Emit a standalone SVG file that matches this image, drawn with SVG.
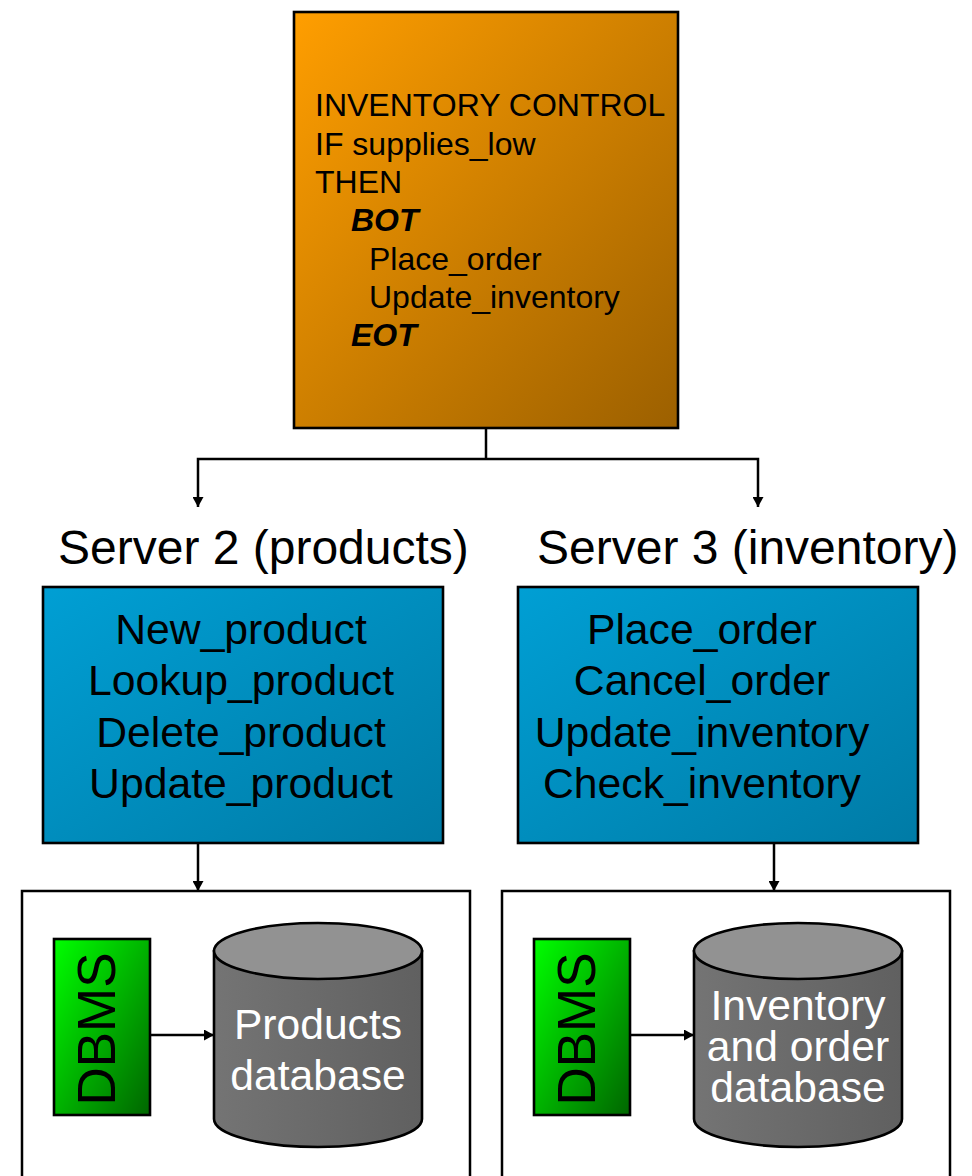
<svg xmlns="http://www.w3.org/2000/svg" width="972" height="1176" viewBox="0 0 972 1176">
<style>
text{font-family:"Liberation Sans",Arial,sans-serif;fill:#000}
.c{stroke:#000;stroke-width:2.5;fill:none}
.b{stroke:#000;stroke-width:2.6}
.code{font-size:32px}
.srv{font-size:48px}
.fn{font-size:42.7px;text-anchor:middle}
.db{font-size:42.6px;text-anchor:middle;fill:#fff}
.dbms{font-size:53px;text-anchor:middle}
</style>
<defs>
<linearGradient id="o" x1="0" y1="0" x2="1" y2="1"><stop offset="0" stop-color="#ff9e00"/><stop offset="1" stop-color="#9c6000"/></linearGradient>
<linearGradient id="bl" x1="0" y1="0" x2="1" y2="1"><stop offset="0" stop-color="#009fd4"/><stop offset="1" stop-color="#007ba6"/></linearGradient>
<linearGradient id="g" x1="0" y1="0" x2="1" y2="1"><stop offset="0" stop-color="#00ff00"/><stop offset="1" stop-color="#006600"/></linearGradient>
<linearGradient id="cy" x1="0" y1="0" x2="1" y2="0"><stop offset="0" stop-color="#747474"/><stop offset="1" stop-color="#606060"/></linearGradient>
<marker id="a" markerUnits="userSpaceOnUse" markerWidth="10" markerHeight="11" refX="10" refY="5.5" orient="auto"><path d="M0 0L10 5.5L0 11z" fill="#000"/></marker>
</defs>
<g id="connectors">
<path class="c" d="M486 428V459"/>
<path class="c" d="M486 459H198V507" marker-end="url(#a)"/>
<path class="c" d="M486 459H758V507" marker-end="url(#a)"/>
<path class="c" d="M198 844V891" marker-end="url(#a)"/>
<path class="c" d="M774 844V891" marker-end="url(#a)"/>
<path class="c" d="M150 1035H214" marker-end="url(#a)"/>
<path class="c" d="M630 1035H694" marker-end="url(#a)"/>
</g>
<g id="inventory-control">
<rect class="b" x="294" y="12" width="384" height="416" fill="url(#o)"/>
<text class="code" x="315" y="116">INVENTORY CONTROL</text>
<text class="code" x="315" y="155">IF supplies_low</text>
<text class="code" x="315" y="193">THEN</text>
<text class="code" x="351" y="231" font-weight="bold" font-style="italic">BOT</text>
<text class="code" x="369" y="270">Place_order</text>
<text class="code" x="369" y="308">Update_inventory</text>
<text class="code" x="351" y="346" font-weight="bold" font-style="italic">EOT</text>
</g>
<g id="server2-title"><text class="srv" x="58" y="564">Server 2 (products)</text></g>
<g id="server3-title"><text class="srv" x="537" y="564">Server 3 (inventory)</text></g>
<g id="server2">
<rect class="b" x="43" y="587" width="400" height="256" fill="url(#bl)"/>
<text class="fn" x="241" y="644">New_product</text>
<text class="fn" x="241" y="695">Lookup_product</text>
<text class="fn" x="241" y="747">Delete_product</text>
<text class="fn" x="241" y="798">Update_product</text>
</g>
<g id="server3">
<rect class="b" x="518" y="587" width="400" height="256" fill="url(#bl)"/>
<text class="fn" x="702" y="644">Place_order</text>
<text class="fn" x="702" y="695">Cancel_order</text>
<text class="fn" x="702" y="747">Update_inventory</text>
<text class="fn" x="702" y="798">Check_inventory</text>
</g>
<g id="container2"><path class="c" d="M22 1176V891H470V1176"/></g>
<g id="container3"><path class="c" d="M502 1176V891H950V1176"/></g>
<g id="dbms2">
<rect class="b" x="54" y="939" width="96" height="176" fill="url(#g)"/>
<text class="dbms" transform="translate(115 1029) rotate(-90)">DBMS</text>
</g>
<g id="dbms3">
<rect class="b" x="534" y="939" width="96" height="176" fill="url(#g)"/>
<text class="dbms" transform="translate(595 1029) rotate(-90)">DBMS</text>
</g>
<g id="products-db">
<path class="b" d="M214 951V1119A104 28 0 0 0 422 1119V951z" fill="url(#cy)"/>
<ellipse class="b" cx="318" cy="951" rx="104" ry="28" fill="#929292"/>
<text class="db" x="318" y="1039">Products</text>
<text class="db" x="318" y="1090">database</text>
</g>
<g id="inventory-db">
<path class="b" d="M694 951V1119A104 28 0 0 0 902 1119V951z" fill="url(#cy)"/>
<ellipse class="b" cx="798" cy="951" rx="104" ry="28" fill="#929292"/>
<text class="db" x="798" y="1020">Inventory</text>
<text class="db" x="798" y="1061">and order</text>
<text class="db" x="798" y="1102">database</text>
</g>
</svg>
